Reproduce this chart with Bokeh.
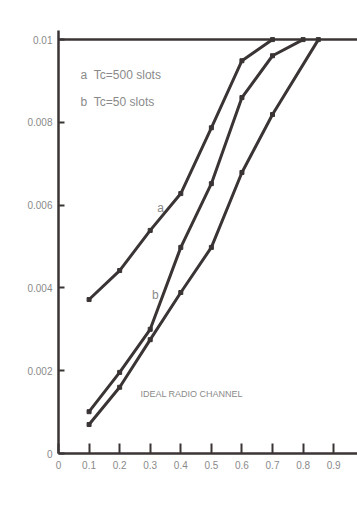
from bokeh.plotting import figure
from bokeh.models import FixedTicker, Span
from bokeh.core.properties import value
from bokeh.embed import file_html
from bokeh.resources import INLINE

x_a = [0.1, 0.2, 0.3, 0.4, 0.5, 0.6, 0.7]
y_a = [0.00372, 0.00442, 0.00539, 0.00628, 0.00787, 0.00949, 0.0100]
x_b = [0.1, 0.2, 0.3, 0.4, 0.5, 0.6, 0.7, 0.8]
y_b = [0.00101, 0.00196, 0.00300, 0.00498, 0.00652, 0.00860, 0.00961, 0.0100]
x_c = [0.1, 0.2, 0.3, 0.4, 0.5, 0.6, 0.7, 0.85]
y_c = [0.00070, 0.00160, 0.00275, 0.00389, 0.00498, 0.00679, 0.00819, 0.0100]

x_ticks = [0, 0.1, 0.2, 0.3, 0.4, 0.5, 0.6, 0.7, 0.8, 0.9]
x_labels = ["0", "0.1", "0.2", "0.3", "0.4", "0.5", "0.6", "0.7", "0.8", "0.9"]
y_ticks = [0, 0.002, 0.004, 0.006, 0.008, 0.01]
y_labels = ["0", "0.002", "0.004", "0.006", "0.008", "0.01"]

ink = "#3a3434"
grey = "#8a8a8a"
font = "Liberation Sans"

p = figure(width=357, height=506, output_backend="svg", toolbar_location=None,
           x_range=(0, 0.978), y_range=(0, 0.01022),
           min_border_left=58, min_border_right=0, min_border_top=30, min_border_bottom=53)
p.outline_line_color = None
p.grid.visible = False
p.background_fill_color = "white"
p.border_fill_color = "white"

for ax in (p.xaxis, p.yaxis):
    ax.axis_line_color = ink
    ax.axis_line_width = 2.5
    ax.major_tick_line_color = ink
    ax.major_tick_line_width = 2
    ax.minor_tick_line_color = None
    ax.major_tick_out = 0
    ax.major_label_text_color = grey
    ax.major_label_text_font = font
    ax.major_label_text_font_size = "10px"

p.xaxis.ticker = FixedTicker(ticks=x_ticks)
p.xaxis.major_label_overrides = {t: l for t, l in zip(x_ticks, x_labels)}
p.xaxis.major_tick_in = 10
p.xaxis.major_label_standoff = 7
p.yaxis.ticker = FixedTicker(ticks=y_ticks)
p.yaxis.major_label_overrides = {t: l for t, l in zip(y_ticks, y_labels)}
p.yaxis.major_tick_in = 6
p.yaxis.major_label_standoff = 6

p.add_layout(Span(location=0.01, dimension="width", line_color=ink, line_width=2.5))

for xs, ys in ((x_a, y_a), (x_b, y_b), (x_c, y_c)):
    p.line(xs, ys, line_color=ink, line_width=3)
    p.scatter(xs, ys, marker="square", size=4, color=ink)

p.text([0.072], [0.00915], text=["a\u00a0\u00a0Tc=500 slots"], text_color=grey,
       text_font=value(font), text_font_size="12px", text_baseline="middle")
p.text([0.072], [0.0085], text=["b\u00a0\u00a0Tc=50 slots"], text_color=grey,
       text_font=value(font), text_font_size="12px", text_baseline="middle")
p.text([0.334], [0.00592], text=["a"], text_color=grey,
       text_font=value(font), text_font_size="12px", text_baseline="middle", text_align="center")
p.text([0.317], [0.00382], text=["b"], text_color=grey,
       text_font=value(font), text_font_size="12px", text_baseline="middle", text_align="center")
p.text([0.268], [0.00143], text=["IDEAL RADIO CHANNEL"], text_color=grey,
       text_font=value(font), text_font_size="9px", text_baseline="middle")

open("out.html", "w").write(file_html(p, INLINE))
